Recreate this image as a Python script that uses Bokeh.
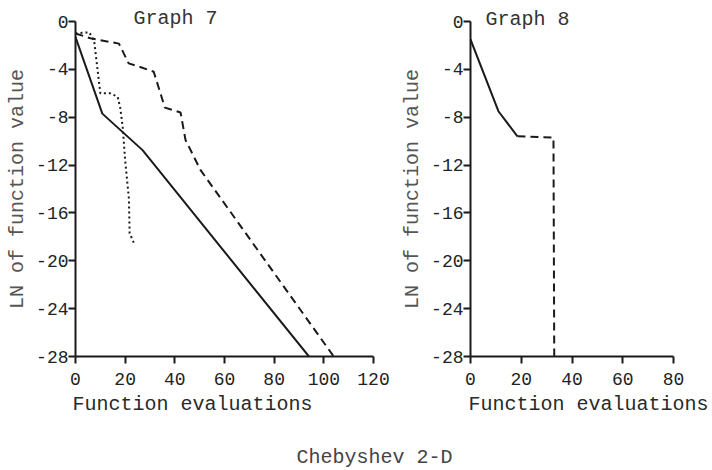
from bokeh.plotting import figure
from bokeh.models import FixedTicker, Label, Range1d, Title
from bokeh.layouts import column, row
from bokeh.embed import file_html
from bokeh.resources import INLINE

# ---- data ----
g7_solid_x = [0, 10.8, 27, 94]
g7_solid_y = [-1.3, -7.7, -10.75, -28]
g7_dash_x = [0, 6, 17.5, 21.4, 26, 31.5, 36, 42.3, 44.3, 50.3, 104]
g7_dash_y = [-1.0, -1.4, -1.85, -3.5, -3.8, -4.2, -7.2, -7.6, -9.9, -12.4, -28]
g7_dot_x = [0, 5.5, 7.5, 10, 14, 17, 18, 19, 20, 21.5, 21.8, 23.5]
g7_dot_y = [-1.0, -0.9, -1.6, -6.0, -6.0, -6.3, -7.2, -8.8, -11.6, -14.8, -17.7, -18.5]

g8_solid_x = [0, 11, 18.5]
g8_solid_y = [-1.5, -7.5, -9.6]
g8_dash_x = [18.5, 32.7, 33]
g8_dash_y = [-9.6, -9.7, -28]

y_ticks = [0, -4, -8, -12, -16, -20, -24, -28]
g7_x_ticks = [0, 20, 40, 60, 80, 100, 120]
g8_x_ticks = [0, 20, 40, 60, 80]

FONT = "Liberation Mono"
INK = "#1a1a1a"


def style(p, xticks):
    p.xgrid.visible = False
    p.ygrid.visible = False
    p.outline_line_color = None
    p.background_fill_color = "white"
    p.border_fill_color = "white"
    for ax, ticks in ((p.xaxis[0], xticks), (p.yaxis[0], y_ticks)):
        ax.ticker = FixedTicker(ticks=ticks)
        ax.major_label_overrides = {t: str(t) for t in ticks}
        ax.axis_line_width = 2
        ax.axis_line_color = INK
        ax.major_tick_line_width = 2
        ax.major_tick_line_color = INK
        ax.major_tick_out = 7
        ax.major_tick_in = 0
        ax.minor_tick_line_color = None
        ax.major_label_text_font = FONT
        ax.major_label_text_font_size = "18px"
        ax.major_label_text_color = "#222222"
    p.xaxis.major_label_standoff = 9
    p.yaxis.major_label_standoff = 0
    ya = p.yaxis[0]
    ya.axis_label = "LN of function value"
    ya.axis_label_text_font = FONT
    ya.axis_label_text_font_size = "20px"
    ya.axis_label_text_font_style = "normal"
    ya.axis_label_text_color = "#555555"
    ya.axis_label_standoff = 4


def title(p, text, side, offset, standoff, color="#333333"):
    p.add_layout(Title(text=text, align="left", offset=offset, standoff=standoff,
                       text_font=FONT, text_font_size="20px", text_font_style="normal",
                       text_color=color), side)


# ---- Graph 7 ----
p1 = figure(width=395, height=430, output_backend="svg", toolbar_location=None,
            x_range=Range1d(0, 120), y_range=Range1d(-28, 0),
            min_border_left=75, min_border_right=22, min_border_top=21, min_border_bottom=73)
style(p1, g7_x_ticks)
p1.line(g7_solid_x, g7_solid_y, line_color=INK, line_width=2)
p1.line(g7_dash_x, g7_dash_y, line_color=INK, line_width=2, line_dash="8 5")
p1.line(g7_dot_x, g7_dot_y, line_color=INK, line_width=2, line_dash="2 3")
title(p1, "Graph 7", "above", 58, -17)
title(p1, "Function evaluations", "below", -3, 6, color="#2a2a2a")

# ---- Graph 8 ----
p2 = figure(width=317, height=430, output_backend="svg", toolbar_location=None,
            x_range=Range1d(0, 80), y_range=Range1d(-28, 0),
            min_border_left=75, min_border_right=39, min_border_top=17, min_border_bottom=74)
style(p2, g8_x_ticks)
p2.line(g8_solid_x, g8_solid_y, line_color=INK, line_width=2)
p2.line(g8_dash_x, g8_dash_y, line_color=INK, line_width=2, line_dash="8 5")
title(p2, "Graph 8", "above", 15, -18)
title(p2, "Function evaluations", "below", -2, 6, color="#2a2a2a")

# ---- caption ----
p3 = figure(width=712, height=40, output_backend="svg", toolbar_location=None,
            x_range=Range1d(0, 712), y_range=Range1d(0, 40),
            x_axis_type=None, y_axis_type=None,
            min_border=0, min_border_left=0, min_border_right=0,
            min_border_top=0, min_border_bottom=0)
p3.grid.visible = False
p3.outline_line_color = None
p3.add_layout(Label(x=374, y=13, text="Chebyshev 2-D", text_align="center",
                    text_baseline="alphabetic", text_font=FONT,
                    text_font_size="20px", text_color="#444444"))

layout = column(row(p1, p2), p3)
open("out.html", "w").write(file_html(layout, INLINE))
